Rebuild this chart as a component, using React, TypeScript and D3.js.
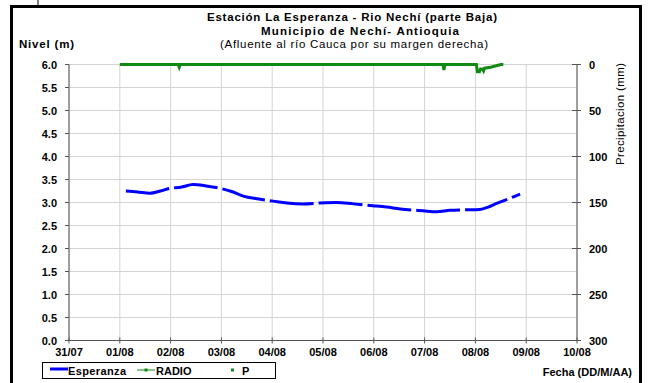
import React from "react";
import * as d3 from "d3";

const dayLabels = ["31/07", "01/08", "02/08", "03/08", "04/08", "05/08", "06/08", "07/08", "08/08", "09/08", "10/08"];
const levelTicks = [0, 0.5, 1, 1.5, 2, 2.5, 3, 3.5, 4, 4.5, 5, 5.5, 6];
const precipTicks = [0, 50, 100, 150, 200, 250, 300];

const esperanzaDays = [1.12, 1.35, 1.59, 1.8, 1.99, 2.2, 2.44, 2.7, 2.97, 3.2, 3.43, 3.7, 4.02, 4.29, 4.61, 4.94, 5.27, 5.6, 5.98, 6.25, 6.52, 6.97, 7.24, 7.5, 7.8, 8.09, 8.25, 8.42, 8.65, 8.88];
const esperanzaLevels = [3.25, 3.23, 3.2, 3.25, 3.31, 3.33, 3.39, 3.36, 3.31, 3.24, 3.14, 3.08, 3.03, 2.99, 2.97, 2.99, 3.0, 2.97, 2.93, 2.9, 2.86, 2.82, 2.8, 2.83, 2.84, 2.85, 2.9, 2.98, 3.08, 3.18];

const radioDays = [1.0, 2.15, 2.17, 2.19, 7.36, 7.38, 7.4, 8.02, 8.04, 8.08, 8.1, 8.14, 8.16, 8.18, 8.3, 8.5, 8.55];
const radioMm = [0, 0, 3, 0, 0, 6, 0, 0, 8, 8, 5, 5, 7, 4, 3, 0, 0];

const W = 651, H = 383;
const L = 69, R = 577, T = 64.5, B = 340.5;

export default function App() {
  const x = d3.scaleLinear().domain([0, 10]).range([L, R]);
  const y = d3.scaleLinear().domain([0, 6]).range([B, T]);
  const yP = d3.scaleLinear().domain([0, 300]).range([T, B]);

  const esp = esperanzaDays.map((d, i) => [d, esperanzaLevels[i]] as [number, number]);
  const radio = radioDays.map((d, i) => [d, radioMm[i]] as [number, number]);

  const espLine = d3.line<[number, number]>().x(d => x(d[0])).y(d => y(d[1])).curve(d3.curveMonotoneX);
  const radioLine = d3.line<[number, number]>().x(d => x(d[0])).y(d => yP(d[1]));

  const font = "'Liberation Sans', Arial, sans-serif";
  const grid = "#d4d4d4";

  return (
    <svg width={W} height={H} style={{ position: "absolute", left: 0, top: 0 }} fontFamily={font}>
      <rect x={0} y={0} width={W} height={H} fill="#fff" />
      <line x1={38} y1={0} x2={38} y2={6} stroke="#000" strokeWidth={1} />
      <rect x={11.5} y={6.5} width={629} height={H} fill="none" stroke="#000" strokeWidth={3} />

      {/* titles */}
      <text x={207} y={21} fontSize={11.5} fontWeight="bold" textLength={290} lengthAdjust="spacing">Estación La Esperanza - Rio Nechí  (parte Baja)</text>
      <text x={261} y={34.5} fontSize={11.5} fontWeight="bold" textLength={198} lengthAdjust="spacing">Municipio de Nechí- Antioquia</text>
      <text x={220} y={48} fontSize={11.5} textLength={268} lengthAdjust="spacing">(Afluente al río Cauca por su margen derecha)</text>
      <text x={19} y={48} fontSize={11.5} fontWeight="bold" textLength={55} lengthAdjust="spacing">Nivel (m)</text>

      {/* grid */}
      {levelTicks.map(t => (
        <line key={"h" + t} x1={L} x2={R} y1={y(t)} y2={y(t)} stroke={grid} strokeWidth={1} />
      ))}
      {dayLabels.map((_, i) => (
        <line key={"v" + i} x1={x(i)} x2={x(i)} y1={T} y2={B} stroke={grid} strokeWidth={1} />
      ))}

      {/* axes */}
      <line x1={L} x2={L} y1={T} y2={B} stroke="#555" strokeWidth={1} />
      <line x1={R} x2={R} y1={T} y2={B} stroke="#555" strokeWidth={1} />
      <line x1={L} x2={R} y1={B} y2={B} stroke="#555" strokeWidth={1} />
      {levelTicks.map(t => (
        <g key={"lt" + t}>
          <line x1={L - 4} x2={L} y1={y(t)} y2={y(t)} stroke="#555" />
          <text x={57} y={y(t) + 4} textAnchor="end" fontSize={11} fontWeight="bold">{t.toFixed(1)}</text>
        </g>
      ))}
      {precipTicks.map(t => (
        <g key={"rt" + t}>
          <line x1={R - 5} x2={R + 4} y1={yP(t)} y2={yP(t)} stroke="#555" />
          <text x={589} y={yP(t) + 4} fontSize={11} fontWeight="bold">{t}</text>
        </g>
      ))}
      {dayLabels.map((d, i) => (
        <g key={"xt" + i}>
          <line x1={x(i)} x2={x(i)} y1={B - 3} y2={B + 3} stroke="#555" />
          <text x={x(i)} y={356} textAnchor="middle" fontSize={11} fontWeight="bold">{d}</text>
        </g>
      ))}
      <text transform={`translate(624,114) rotate(-90)`} textAnchor="middle" fontSize={11.5} textLength={102} lengthAdjust="spacing">Precipitacion (mm)</text>
      <text x={632} y={376} textAnchor="end" fontSize={11} fontWeight="bold">Fecha (DD/M/AA)</text>

      {/* series */}
      <path d={radioLine(radio) || ""} fill="none" stroke="#118a11" strokeWidth={3} />
      <path d={espLine(esp) || ""} fill="none" stroke="#0000ff" strokeWidth={3} strokeDasharray="44 5" />

      {/* legend */}
      <rect x={42.5} y={362.5} width={233} height={16} fill="#fff" stroke="#000" strokeWidth={1} />
      <line x1={50} x2={68} y1={369} y2={369} stroke="#0000ff" strokeWidth={3} />
      <text x={68} y={374.5} fontSize={11} fontWeight="bold" textLength={58} lengthAdjust="spacing">Esperanza</text>
      <line x1={137} x2={155} y1={370} y2={370} stroke="#118a11" strokeWidth={1} />
      <rect x={144.5} y={368.5} width={3} height={3} fill="#118a11" />
      <text x={156} y={374.5} fontSize={11} fontWeight="bold">RADIO</text>
      <rect x={231} y={368.5} width={3} height={3} fill="#118a11" />
      <text x={242} y={374.5} fontSize={11} fontWeight="bold">P</text>
    </svg>
  );
}
